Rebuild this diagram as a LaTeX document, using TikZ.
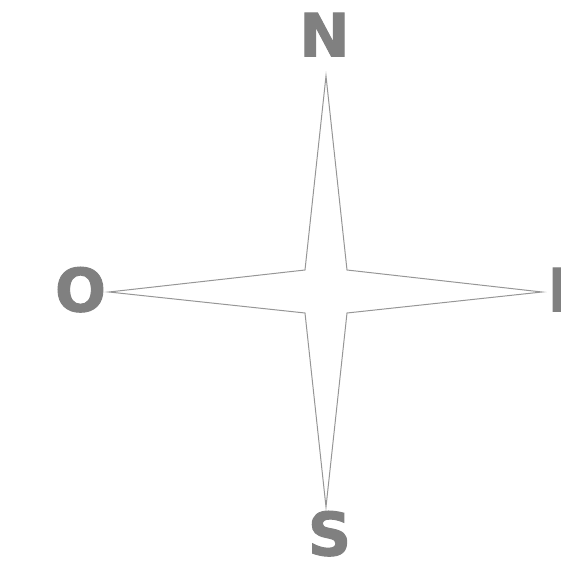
\documentclass[tikz,border=0pt]{standalone}
\usepackage{fontspec}
\setmainfont{DejaVu Sans}
\newfontfamily\heavyfont{DejaVu Sans Bold}[FakeBold=1.6]
\usepackage{tikz}
\definecolor{lettergrey}{RGB}{128,128,128}
\definecolor{stargrey}{RGB}{150,150,150}
\tikzset{
  cardinal/.style={text=lettergrey,font=\heavyfont\fontsize{60}{60}\selectfont,
                   inner sep=0pt,anchor=base},
  starline/.style={draw=stargrey,line width=1pt,line join=miter},
}

\begin{document}
\begin{tikzpicture}[x=1pt,y=1pt]
  \useasboundingbox (-326,-281.5) rectangle (235,291.5);

  % tips and inner corners of the star
  \coordinate (tipN) at (0,215.5);
  \coordinate (tipS) at (0,-215.5);
  \coordinate (tipO) at (-217,-0.5);
  \coordinate (tipE) at (216,-0.5);
  \coordinate (ne) at (21,21.5);
  \coordinate (nw) at (-21,21.5);
  \coordinate (sw) at (-21,-21.5);
  \coordinate (se) at (21,-21.5);

  \draw[starline] (tipN) -- (ne) -- (tipE) -- (se) -- (tipS) -- (sw)
                  -- (tipO) -- (nw) -- cycle;

  \node[cardinal] (labN) at (-1.5,235)  {N};
  \node[cardinal] (labS) at (3.5,-264)  {S};
  \node[cardinal] (labO) at (-245.5,-20) {O};
  \node[cardinal] (labE) at (242,-20)   {E};
\end{tikzpicture}
\end{document}
